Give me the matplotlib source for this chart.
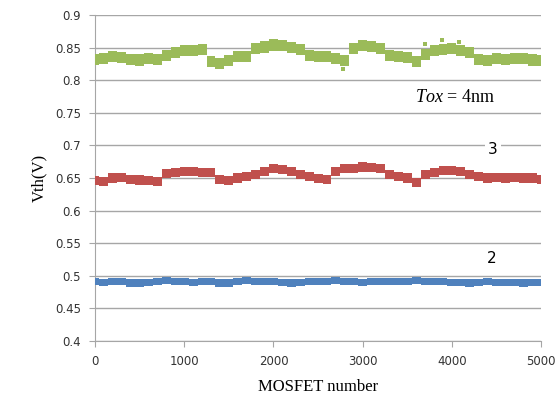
import numpy as np
import matplotlib

matplotlib.use("Agg")
import matplotlib.pyplot as plt

# MOSFET index sampled every 100 devices
mosfet = list(range(0, 5001, 100))

vth_4nm = [0.832, 0.834, 0.836, 0.835, 0.832, 0.831, 0.833, 0.832, 0.838, 0.843,
           0.846, 0.845, 0.847, 0.829, 0.826, 0.830, 0.836, 0.836, 0.848, 0.851,
           0.854, 0.853, 0.850, 0.847, 0.838, 0.836, 0.837, 0.834, 0.830, 0.849,
           0.853, 0.852, 0.849, 0.838, 0.836, 0.835, 0.829, 0.840, 0.845, 0.847,
           0.848, 0.846, 0.843, 0.832, 0.830, 0.833, 0.832, 0.834, 0.833, 0.831,
           0.830]
vth_3nm = [0.646, 0.645, 0.650, 0.651, 0.648, 0.647, 0.646, 0.645, 0.657, 0.659,
           0.660, 0.660, 0.659, 0.658, 0.648, 0.646, 0.650, 0.652, 0.656, 0.660,
           0.664, 0.663, 0.660, 0.656, 0.652, 0.649, 0.648, 0.660, 0.664, 0.665,
           0.667, 0.666, 0.664, 0.655, 0.652, 0.650, 0.643, 0.655, 0.658, 0.661,
           0.662, 0.660, 0.656, 0.652, 0.650, 0.651, 0.650, 0.651, 0.650, 0.650,
           0.648]
vth_2nm = [0.491, 0.490, 0.492, 0.491, 0.489, 0.489, 0.490, 0.492, 0.493, 0.492,
           0.491, 0.490, 0.491, 0.492, 0.489, 0.489, 0.492, 0.493, 0.492, 0.491,
           0.491, 0.490, 0.489, 0.490, 0.491, 0.492, 0.492, 0.493, 0.492, 0.491,
           0.490, 0.491, 0.492, 0.491, 0.491, 0.492, 0.493, 0.492, 0.491, 0.491,
           0.490, 0.490, 0.489, 0.490, 0.491, 0.490, 0.490, 0.490, 0.489, 0.490,
           0.490]

# isolated outlier devices of the 4nm set
out_4nm_x = [2780, 3700, 3890, 4080]
out_4nm_y = [0.817, 0.856, 0.862, 0.859]

GREEN = "#9BBB59"
RED = "#C0504D"
BLUE = "#4F81BD"
GRID = "#A6A6A6"

plt.rcParams["mathtext.fontset"] = "custom"
plt.rcParams["mathtext.it"] = "Liberation Serif:italic"
plt.rcParams["mathtext.rm"] = "Liberation Serif"
plt.rcParams["path.simplify"] = False

fig = plt.figure(figsize=(5.59, 4.17), dpi=100)
ax = fig.add_axes([0.170, 0.182, 0.798, 0.782])


def draw_band(values, color, spread):
    # one step-shaped polygon per series, centred on each sampled device
    x = np.asarray(mosfet, dtype=float)
    v = np.asarray(values)
    edges = np.concatenate([[x[0]], (x[:-1] + x[1:]) / 2, [x[-1]]])
    xs = np.repeat(edges, 2)[1:-1]
    top = np.repeat(v + spread, 2)
    bot = np.repeat(v - spread, 2)
    ax.fill(np.concatenate([xs, xs[::-1]]), np.concatenate([top, bot[::-1]]),
            facecolor=color, edgecolor="none", zorder=3)


draw_band(vth_4nm, GREEN, 0.0085)
ax.plot(out_4nm_x, out_4nm_y, "s", color=GREEN, markersize=3.5,
        markeredgewidth=0, zorder=3)
draw_band(vth_3nm, RED, 0.007)
draw_band(vth_2nm, BLUE, 0.0055)

ax.set_xlim(0, 5000)
ax.set_ylim(0.4, 0.9)
ax.set_xticks(np.arange(0, 5001, 1000))
ax.set_yticks(np.arange(0.4, 0.901, 0.05))
ax.set_yticklabels(["0.4", "0.45", "0.5", "0.55", "0.6", "0.65", "0.7",
                    "0.75", "0.8", "0.85", "0.9"])
ax.yaxis.grid(True, color=GRID, linewidth=1.0, zorder=0)
ax.set_axisbelow(True)
for side in ("top", "right"):
    ax.spines[side].set_visible(False)
for side in ("left", "bottom"):
    ax.spines[side].set_color(GRID)
ax.tick_params(axis="both", direction="out", length=4, color=GRID,
               labelsize=8.5, labelcolor="#333333", pad=6)

serif = ["Liberation Serif", "DejaVu Serif"]
ax.set_xlabel("MOSFET number", fontsize=12, family=serif, labelpad=8)
ax.set_ylabel("Vth(V)", fontsize=12, family=serif, labelpad=6)

ax.text(3590, 0.773, r"$Tox$ = 4nm", fontsize=13, family=serif,
        va="center", ha="left", zorder=4)
ax.text(4460, 0.694, "3", fontsize=11, va="center", ha="center",
        bbox=dict(facecolor="white", edgecolor="none", pad=2), zorder=4)
ax.text(4450, 0.527, "2", fontsize=11, va="center", ha="center",
        bbox=dict(facecolor="white", edgecolor="none", pad=2), zorder=4)

fig.savefig("out.png", dpi=100)
